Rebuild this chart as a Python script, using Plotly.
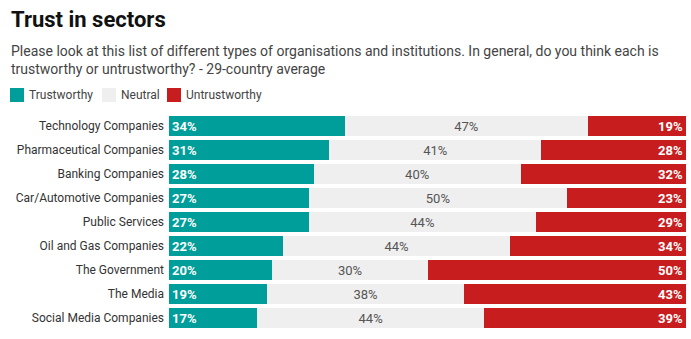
import plotly.graph_objects as go

categories = ["Technology Companies", "Pharmaceutical Companies", "Banking Companies",
              "Car/Automotive Companies", "Public Services", "Oil and Gas Companies",
              "The Government", "The Media", "Social Media Companies"]
trustworthy = [34, 31, 28, 27, 27, 22, 20, 19, 17]
neutral = [47, 41, 40, 50, 44, 44, 30, 38, 44]
untrustworthy = [19, 28, 32, 23, 29, 34, 50, 43, 39]

series_names = ["Trustworthy", "Neutral", "Untrustworthy"]
colors = ["#009e9a", "#efefef", "#c71d1e"]

W, H = 691, 339
ML, MR, MT, MB = 169, 5, 114, 9
PW, PH = W - ML - MR, H - MT - MB

def px(x):
    return (x - ML) / PW

def py(y):
    return (H - MB - y) / PH

fig = go.Figure()
fig.add_trace(go.Bar(
    y=categories, x=trustworthy, orientation="h", name=series_names[0],
    marker=dict(color=colors[0], line=dict(width=0)),
    text=[f"<b>{v}%</b>" for v in trustworthy], textposition="inside",
    insidetextanchor="start", constraintext="none",
    insidetextfont=dict(color="white", size=13, family="Roboto"),
    hoverinfo="skip"))
fig.add_trace(go.Bar(
    y=categories, x=neutral, orientation="h", name=series_names[1],
    marker=dict(color=colors[1], line=dict(width=0)),
    text=[f"{v}%" for v in neutral], textposition="inside",
    insidetextanchor="middle", constraintext="none",
    insidetextfont=dict(color="#555555", size=13, family="Roboto"),
    hoverinfo="skip"))
fig.add_trace(go.Bar(
    y=categories, x=untrustworthy, orientation="h", name=series_names[2],
    marker=dict(color=colors[2], line=dict(width=0)),
    text=[f"<b>{v}%</b>" for v in untrustworthy], textposition="inside",
    insidetextanchor="end", constraintext="none",
    insidetextfont=dict(color="white", size=13, family="Roboto"),
    hoverinfo="skip"))

annotations = [
    dict(text="<b>Trust in sectors</b>", xref="paper", yref="paper",
         x=px(9), y=py(5), xanchor="left", yanchor="top", showarrow=False,
         font=dict(size=22, color="#111111", family="Roboto")),
    dict(text="Please look at this list of different types of organisations and institutions. In general, do you think each is<br>trustworthy or untrustworthy? - 29-country average",
         xref="paper", yref="paper", x=px(9), y=py(41), xanchor="left", yanchor="top",
         align="left", showarrow=False,
         font=dict(size=14, color="#444444", family="Roboto")),
]
shapes = []
legend_x = [10, 102, 167]
for name, col, lx in zip(series_names, colors, legend_x):
    shapes.append(dict(type="rect", xref="paper", yref="paper",
                       x0=px(lx), x1=px(lx + 14), y0=py(102), y1=py(88),
                       fillcolor=col, line=dict(width=0)))
    annotations.append(dict(text=name, xref="paper", yref="paper",
                            x=px(lx + 17), y=py(95), xanchor="left", yanchor="middle",
                            showarrow=False,
                            font=dict(size=12, color="#444444", family="Roboto")))

fig.update_layout(
    width=W, height=H, barmode="stack", bargap=4/24,
    margin=dict(l=ML, r=MR, t=MT, b=MB, autoexpand=False),
    paper_bgcolor="white", plot_bgcolor="white", showlegend=False,
    font=dict(family="Roboto", size=12, color="#333333"),
    xaxis=dict(range=[0, 100], visible=False, fixedrange=True),
    yaxis=dict(autorange="reversed", showgrid=False, zeroline=False, showline=False,
               ticks="", ticklabelstandoff=4,
               tickfont=dict(size=12, color="#333333", family="Roboto")),
    annotations=annotations, shapes=shapes,
)
fig.write_html("out.html")
